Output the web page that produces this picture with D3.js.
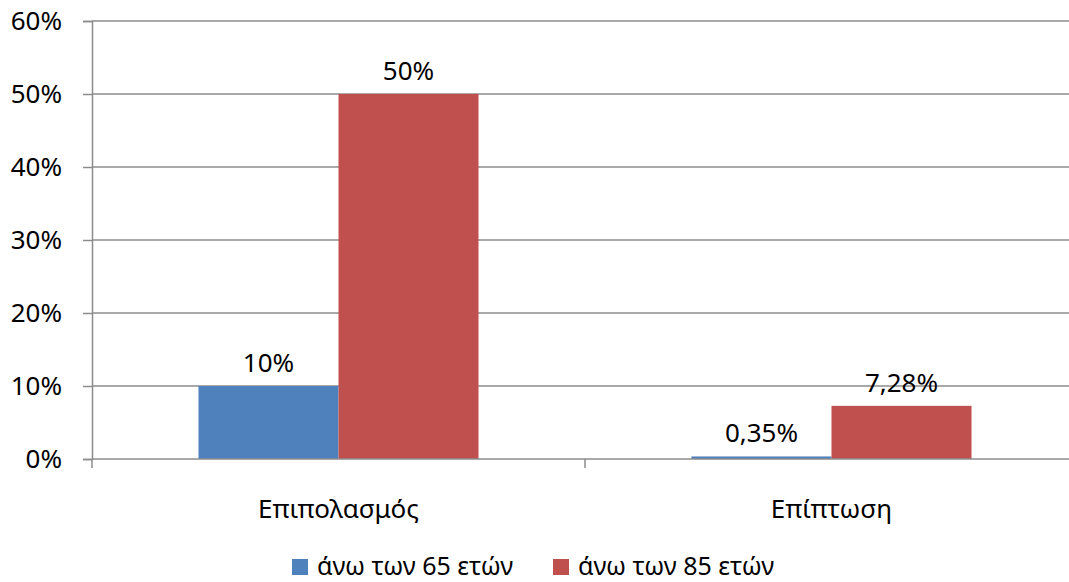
<!DOCTYPE html>
<html lang="el">
  <head>
    <meta charset="UTF-8" />
    <title>Επιπολασμός / Επίπτωση</title>
    <script src="https://d3js.org/d3.v7.min.js"></script>
    <style>
      body { margin: 0; background: #fff; }
      svg { display: block; font-family: "Noto Sans", sans-serif; }
      .tick-label { font-size: 26px; fill: #000; }
      .legend-label { font-size: 25px; fill: #000; }
    </style>
  </head>
  <body>
    <svg width="1069" height="582"></svg>
    <script>
      const categories = ['Επιπολασμός', 'Επίπτωση'];
      const seriesNames = ['άνω των 65 ετών', 'άνω των 85 ετών'];
      const over65 = [10, 0.35];
      const over85 = [50, 7.28];
      const valueLabels65 = ['10%', '0,35%'];
      const valueLabels85 = ['50%', '7,28%'];
      const yTicks = [0, 10, 20, 30, 40, 50, 60];

      const colors = ['#4F81BD', '#C0504D'];
      const svg = d3.select('svg');
      const plotLeft = 92, plotRight = 1078, plotTop = 21, plotBottom = 459;

      const x = d3.scaleBand().domain(categories).range([plotLeft, plotRight])
        .paddingInner(0.432).paddingOuter(0.216);
      const xs = d3.scaleBand().domain(seriesNames).range([0, x.bandwidth()]);
      const y = d3.scaleLinear().domain([0, 60]).range([plotBottom, plotTop]);

      // gridlines
      svg.append('g').selectAll('line').data(yTicks.filter(d => d > 0)).join('line')
        .attr('x1', plotLeft).attr('x2', plotRight)
        .attr('y1', d => y(d)).attr('y2', d => y(d))
        .attr('stroke', '#8c8c8c').attr('stroke-width', 1.5);

      // y axis
      const yAxis = svg.append('g').attr('transform', `translate(${plotLeft},0)`)
        .call(d3.axisLeft(y).tickValues(yTicks).tickSize(9).tickFormat(d => d + '%'));
      yAxis.select('.domain').attr('stroke', '#8c8c8c').attr('stroke-width', 1.5);
      yAxis.selectAll('.tick line').attr('stroke', '#8c8c8c').attr('stroke-width', 1.5);
      yAxis.selectAll('.tick text').attr('class', 'tick-label').attr('x', -30);
      yAxis.attr('font-family', null).attr('font-size', null);

      const rows = categories.map((c, i) => ({ cat: c, vals: [over65[i], over85[i]], labels: [valueLabels65[i], valueLabels85[i]] }));
      const bars = rows.flatMap(r => r.vals.map((v, j) => ({ cat: r.cat, s: seriesNames[j], v, label: r.labels[j], j })));

      svg.append('g').selectAll('rect').data(bars).join('rect')
        .attr('x', d => x(d.cat) + xs(d.s))
        .attr('width', xs.bandwidth())
        .attr('y', d => y(d.v))
        .attr('height', d => plotBottom - y(d.v))
        .attr('fill', d => colors[d.j]);

      // x axis
      svg.append('line').attr('x1', plotLeft).attr('x2', plotRight).attr('y1', plotBottom).attr('y2', plotBottom)
        .attr('stroke', '#8c8c8c').attr('stroke-width', 1.5);
      const bounds = [plotLeft, ...categories.slice(1).map(c => x(c) - x.step() * x.paddingInner() / 2), plotRight];
      svg.append('g').selectAll('line').data(bounds).join('line')
        .attr('x1', d => d).attr('x2', d => d).attr('y1', plotBottom).attr('y2', plotBottom + 9)
        .attr('stroke', '#8c8c8c').attr('stroke-width', 1.5);

      svg.append('g').selectAll('text').data(categories).join('text')
        .attr('class', 'tick-label')
        .attr('x', d => x(d) + x.bandwidth() / 2).attr('y', 518)
        .attr('text-anchor', 'middle').text(d => d);

      // data labels
      svg.append('g').selectAll('text').data(bars).join('text')
        .attr('class', 'tick-label')
        .attr('x', d => x(d.cat) + xs(d.s) + xs.bandwidth() / 2)
        .attr('y', d => y(d.v) - 14)
        .attr('text-anchor', 'middle').text(d => d.label);

      // legend
      const legendX = [292, 553];
      const lg = svg.append('g').selectAll('g').data(seriesNames).join('g')
        .attr('transform', (d, i) => `translate(${legendX[i]},559)`);
      lg.append('rect').attr('width', 16).attr('height', 16).attr('fill', (d, i) => colors[i]);
      lg.append('text').attr('class', 'legend-label').attr('x', 25).attr('y', 15.5).text(d => d);
    </script>
  </body>
</html>
